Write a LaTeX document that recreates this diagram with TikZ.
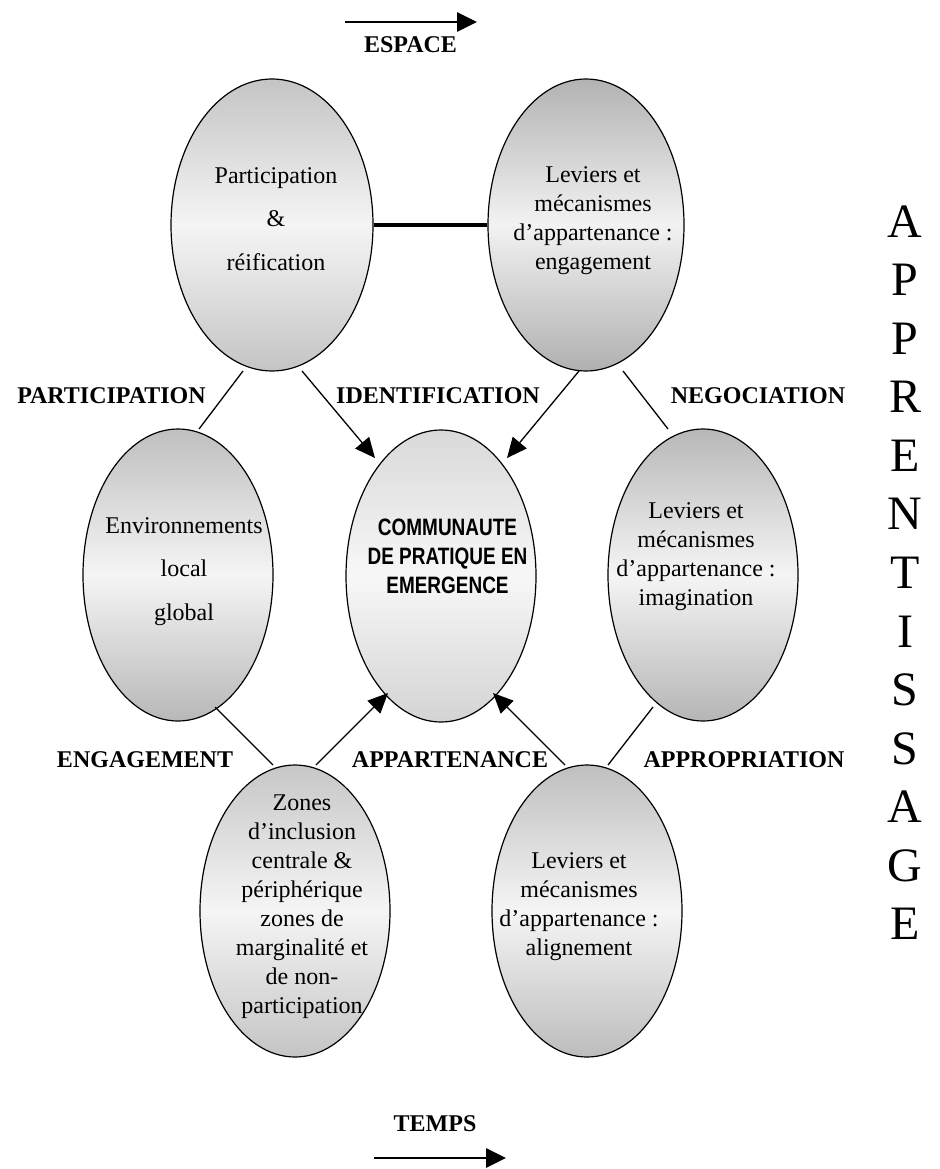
\documentclass[tikz,border=0pt]{standalone}
\usepackage{fontspec}
\setmainfont{Liberation Serif}
\newfontfamily\narrowsans[FakeStretch=0.8]{Liberation Sans}
\usetikzlibrary{arrows.meta,shapes.geometric,calc}
\begin{document}
\begin{tikzpicture}[x=1pt,y=-1pt,
  oval/.style={ellipse,draw=black,line width=1.2pt,inner sep=0pt,minimum width=190pt,minimum height=292pt},
  body/.style={align=center,inner sep=0pt,font=\fontsize{24}{29}\selectfont},
  widebody/.style={align=center,inner sep=0pt,font=\fontsize{24}{43.5}\selectfont},
  lab/.style={inner sep=0pt,font=\fontsize{24}{29}\selectfont\bfseries},
  vlet/.style={inner sep=0pt,anchor=base,font=\fontsize{48}{58}\selectfont},
  conn/.style={line width=1.3pt},
  arr/.style={line width=1.3pt,-{Triangle[length=20pt,width=18pt]}},
  bigarr/.style={line width=2.8pt,-{Triangle[length=20pt,width=19pt]}},
  heavy/.style={line width=4.5pt}
]
\fill[white] (0,0) rectangle (939,1169);
\path[use as bounding box] (0,0) rectangle (939,1169);

% ellipses
\node[oval,minimum width=202pt,top color=black!23,bottom color=black!23,middle color=black!4] (tl) at (272,225) {};
\node[oval,minimum width=196pt,top color=black!30,bottom color=black!31,middle color=black!5] (tr) at (586,225) {};
\node[oval,top color=black!25,bottom color=black!28,middle color=black!4] (l) at (178,575) {};
\node[oval,top color=black!15,bottom color=black!17,middle color=black!3] (c) at (441,576) {};
\node[oval,top color=black!28,bottom color=black!29,middle color=black!4] (r) at (703,575) {};
\node[oval,top color=black!22,bottom color=black!23,middle color=black!4] (bl) at (295,911) {};
\node[oval,top color=black!25,bottom color=black!26,middle color=black!4] (br) at (587,911) {};

% ellipse texts
\node[widebody] (tlt) at (276,219) {Participation\\\&\\réification};
\node[body] (trt) at (593,220.5) {Leviers et\\mécanismes\\d’appartenance :\\engagement};
\node[widebody] (lt) at (184,571.5) {Environnements\\local\\global};
\node[align=center,inner sep=0pt,font=\narrowsans\bfseries\fontsize{23.7}{29}\selectfont] (ct) at (447.5,556) {COMMUNAUTE\\DE PRATIQUE EN\\EMERGENCE};
\node[body] (rt) at (696,557) {Leviers et\\mécanismes\\d’appartenance :\\imagination};
\node[body] (blt) at (302,907) {Zones\\d’inclusion\\centrale \&\\périphérique\\zones de\\marginalité et\\de non-\\participation};
\node[body] (brt) at (579,906.5) {Leviers et\\mécanismes\\d’appartenance :\\alignement};

% labels
\node[lab] (lpart) at (111.5,396) {PARTICIPATION};
\node[lab] (lident) at (438,396) {IDENTIFICATION};
\node[lab] (lnego) at (758,396) {NEGOCIATION};
\node[lab] (lenga) at (145,760) {ENGAGEMENT};
\node[lab] (lappa) at (450,760) {APPARTENANCE};
\node[lab] (lappr) at (744,760) {APPROPRIATION};
\node[lab] (lesp) at (410.5,45) {ESPACE};
\node[lab] (ltemps) at (435,1124) {TEMPS};

% vertical word
\foreach \ch [count=\k from 0] in {A,P,P,R,E,N,T,I,S,S,A,G,E}
  \node[vlet] (ap\k) at (905,237+58.58*\k) {\ch};

% top and bottom arrows
\coordinate (es1) at (345,22);
\coordinate (es2) at (477,22);
\draw[bigarr] (es1) -- (es2);
\coordinate (te1) at (374,1158);
\coordinate (te2) at (506,1158);
\draw[bigarr] (te1) -- (te2);

% connectors
\draw[heavy] (tl.east) -- (tr.west);
\draw[conn] ($(tl)+(-29,146)$) -- ($(l)+(21,-146)$);
\draw[arr]  ($(tl)+(30,146)$) -- ($(c)+(-66,-118)$);
\draw[arr]  ($(tr)+(-7,146)$) -- ($(c)+(66,-118)$);
\draw[conn] ($(tr)+(37,146)$) -- ($(r)+(-35,-146)$);
\draw[conn] ($(l)+(37,132)$) -- ($(bl)+(-22,-146)$);
\draw[arr]  ($(bl)+(21,-146)$) -- ($(c)+(-53,117)$);
\draw[arr]  ($(br)+(-22,-146)$) -- ($(c)+(52,117)$);
\draw[conn] ($(br)+(21,-146)$) -- ($(r)+(-50,132)$);
\end{tikzpicture}
\end{document}
